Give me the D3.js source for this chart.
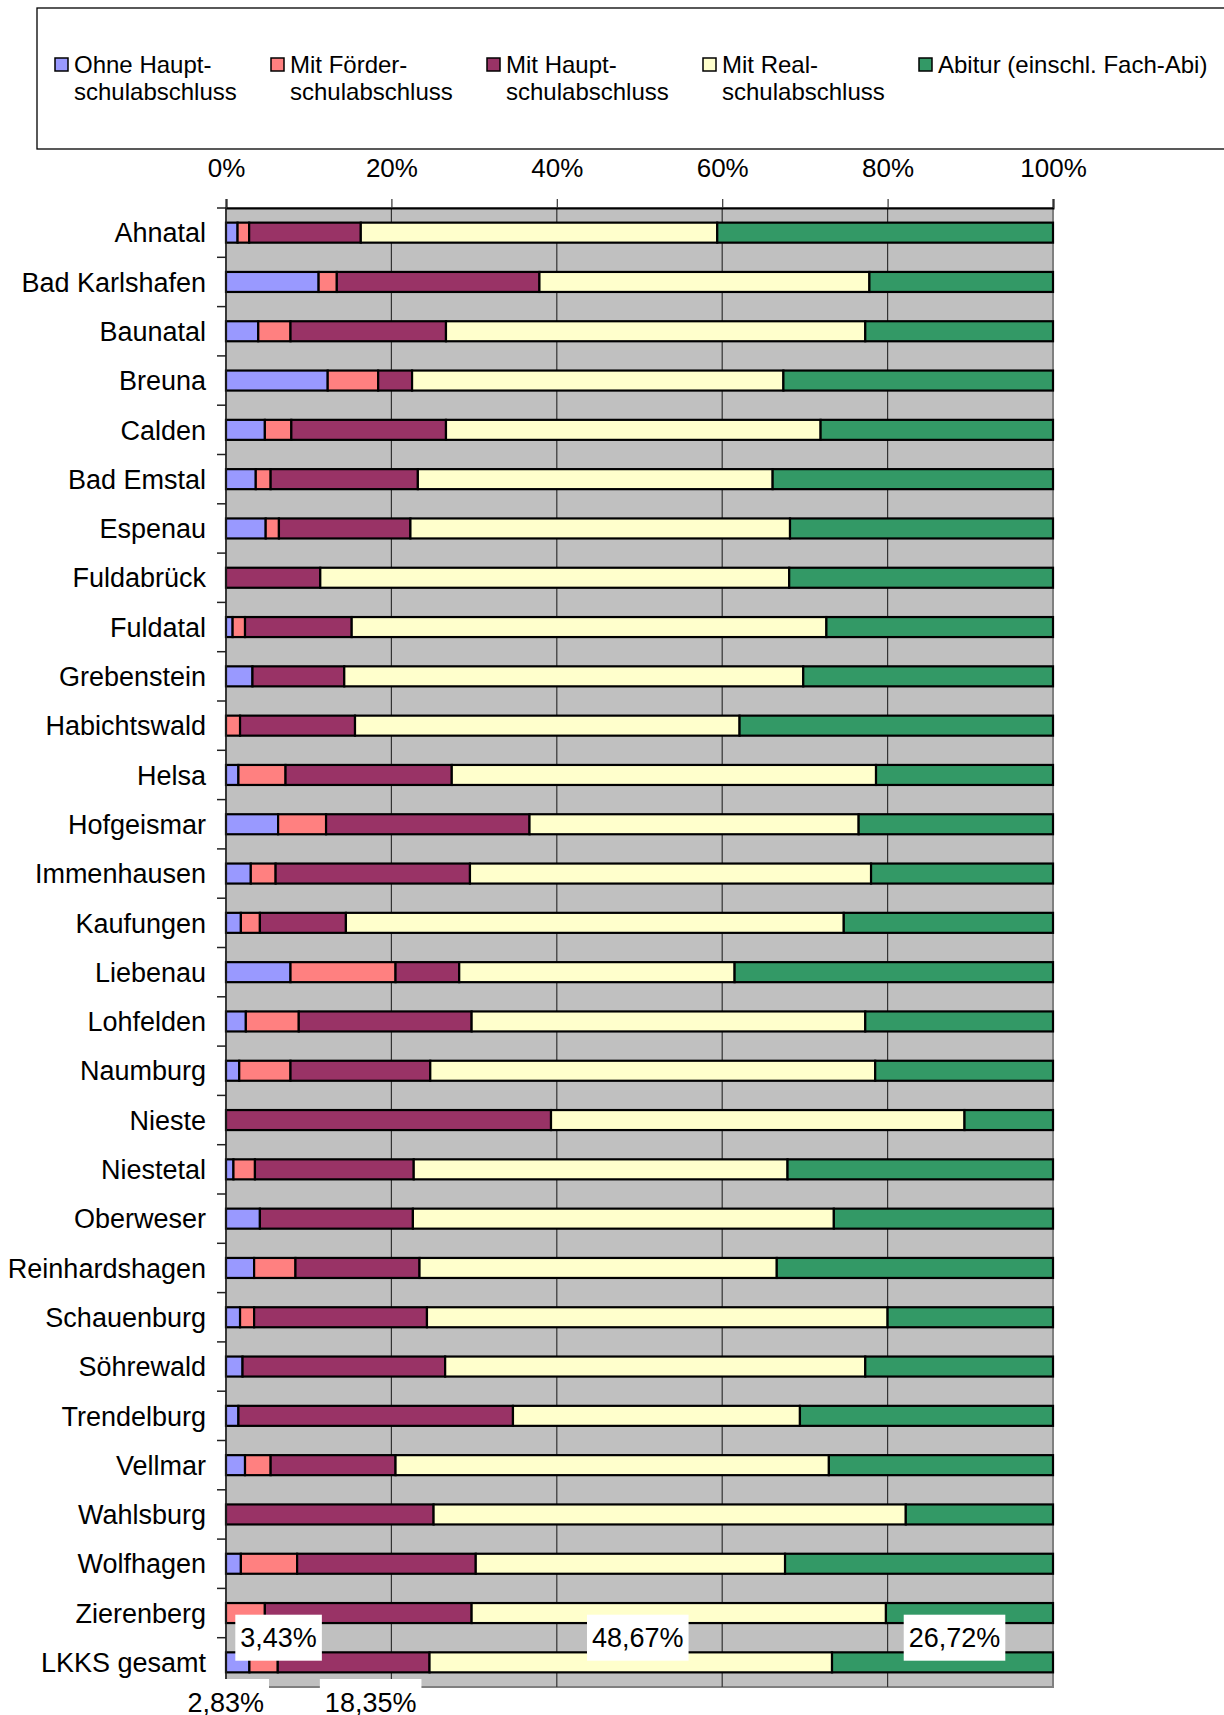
<!DOCTYPE html>
<html>
<head>
<meta charset="utf-8">
<script src="https://cdn.jsdelivr.net/npm/d3@7"></script>
<style>
  html, body { margin: 0; padding: 0; background: #fff; }
  svg { display: block; font-family: "Liberation Sans", Arial, sans-serif; }
</style>
</head>
<body>
<svg id="chart" width="1224" height="1715"></svg>
<script>
var categories = ['Ahnatal', 'Bad Karlshafen', 'Baunatal', 'Breuna', 'Calden', 'Bad Emstal', 'Espenau',
  'Fuldabrück', 'Fuldatal', 'Grebenstein', 'Habichtswald', 'Helsa', 'Hofgeismar', 'Immenhausen',
  'Kaufungen', 'Liebenau', 'Lohfelden', 'Naumburg', 'Nieste', 'Niestetal', 'Oberweser',
  'Reinhardshagen', 'Schauenburg', 'Söhrewald', 'Trendelburg', 'Vellmar', 'Wahlsburg', 'Wolfhagen',
  'Zierenberg', 'LKKS gesamt'];

var seriesNames = [['Ohne Haupt-', 'schulabschluss'], ['Mit Förder-', 'schulabschluss'],
  ['Mit Haupt-', 'schulabschluss'], ['Mit Real-', 'schulabschluss'], ['Abitur (einschl. Fach-Abi)']];

var ohneHaupt = [1.4, 11.2, 3.9, 12.3, 4.7, 3.6, 4.8, 0, 0.8, 3.2, 0, 1.5, 6.3, 3.0, 1.8, 7.8, 2.4, 1.6,
  0, 0.9, 4.1, 3.4, 1.7, 2.0, 1.5, 2.3, 0, 1.8, 0, 2.83];
var mitFoerder = [1.4, 2.2, 3.9, 6.1, 3.2, 1.8, 1.6, 0, 1.5, 0, 1.7, 5.7, 5.8, 3.0, 2.3, 12.7, 6.4, 6.2,
  0, 2.6, 0, 5.0, 1.7, 0, 0, 3.1, 0, 6.8, 4.7, 3.43];
var mitHaupt = [13.5, 24.5, 18.8, 4.1, 18.7, 17.8, 15.9, 11.4, 12.9, 11.1, 13.9, 20.1, 24.6, 23.5, 10.4,
  7.7, 20.9, 16.9, 39.3, 19.2, 18.5, 15.0, 20.9, 24.5, 33.2, 15.1, 25.1, 21.6, 25.0, 18.35];
var mitReal = [43.1, 39.9, 50.7, 44.9, 45.3, 42.9, 45.9, 56.7, 57.4, 55.5, 46.5, 51.3, 39.8, 48.5, 60.2,
  33.3, 47.6, 53.8, 50.0, 45.2, 50.9, 43.2, 55.7, 50.8, 34.7, 52.4, 57.1, 37.4, 50.1, 48.67];
var abitur = [40.6, 22.2, 22.7, 32.6, 28.1, 33.9, 31.8, 31.9, 27.4, 30.2, 37.9, 21.4, 23.5, 22.0, 25.3,
  38.5, 22.7, 21.5, 10.7, 32.1, 26.5, 33.4, 20.0, 22.7, 30.6, 27.1, 17.8, 32.4, 20.2, 26.72];

var xTicks = [0, 20, 40, 60, 80, 100];

var keys = ['ohne', 'foerder', 'haupt', 'real', 'abitur'];
var colors = ['#9999ff', '#ff8080', '#993366', '#ffffcc', '#339966'];

var rows = categories.map(function(c, i) {
  return {name: c, ohne: ohneHaupt[i], foerder: mitFoerder[i], haupt: mitHaupt[i], real: mitReal[i], abitur: abitur[i]};
});

var svg = d3.select('#chart');
var plot = {left: 226, right: 1053, top: 208, bottom: 1687};

var x = d3.scaleLinear().domain([0, 100]).range([plot.left, plot.right]);
var y = d3.scaleBand().domain(categories).range([plot.top, plot.bottom])
  .paddingInner(0.594).paddingOuter(0.297);
var color = d3.scaleOrdinal().domain(keys).range(colors);
var de = d3.formatLocale({decimal: ',', thousands: '.', grouping: [3], currency: ['', ' €']});
var pct = de.format('.2f');

// legend box
var legend = svg.append('g');
legend.append('rect').attr('x', 37).attr('y', 8).attr('width', 1200).attr('height', 141)
  .attr('fill', '#fff').attr('stroke', '#000').attr('stroke-width', 1.3);
var legendX = [55, 271, 487, 703, 919];
seriesNames.forEach(function(lines, i) {
  var g = legend.append('g').attr('transform', 'translate(' + legendX[i] + ',0)');
  g.append('rect').attr('x', 0).attr('y', 58).attr('width', 13).attr('height', 13)
    .attr('fill', colors[i]).attr('stroke', '#000').attr('stroke-width', 1.5);
  g.selectAll('text').data(lines).enter().append('text')
    .attr('x', 19).attr('y', function(d, j) { return 73 + j * 27; })
    .attr('font-size', 24).attr('fill', '#000').text(function(d) { return d; });
});

// plot background and grid
svg.append('rect').attr('x', plot.left).attr('y', plot.top)
  .attr('width', plot.right - plot.left).attr('height', plot.bottom - plot.top)
  .attr('fill', '#c0c0c0').attr('stroke', '#808080').attr('stroke-width', 2);

svg.append('g').selectAll('line').data(xTicks.slice(1, -1)).enter().append('line')
  .attr('x1', x).attr('x2', x).attr('y1', plot.top).attr('y2', plot.bottom)
  .attr('stroke', '#333').attr('stroke-width', 1.2);

// stacked bars
var stacked = d3.stack().keys(keys)(rows);
var layers = svg.append('g').selectAll('g').data(stacked).enter().append('g')
  .attr('fill', function(d) { return color(d.key); });
layers.selectAll('rect')
  .data(function(d) { return d.filter(function(s) { return s[1] - s[0] > 0; }); })
  .enter().append('rect')
  .attr('x', function(d) { return x(d[0]); })
  .attr('y', function(d) { return y(d.data.name); })
  .attr('width', function(d) { return x(d[1]) - x(d[0]); })
  .attr('height', y.bandwidth())
  .attr('stroke', '#000').attr('stroke-width', 2.2);

// top percentage axis
var xAxis = d3.axisTop(x).tickValues(xTicks).tickSize(9).tickPadding(22)
  .tickFormat(function(d) { return d + '%'; });
var gx = svg.append('g').attr('transform', 'translate(0,' + plot.top + ')').call(xAxis);
gx.select('.domain').attr('stroke', '#000').attr('stroke-width', 2);
gx.selectAll('.tick line').attr('stroke', '#333').attr('stroke-width', 1.2);
gx.selectAll('text').attr('font-size', 26).attr('fill', '#000').attr('font-family', null);

// category axis, ticks between bands
svg.append('line').attr('x1', plot.left).attr('x2', plot.left).attr('y1', plot.top).attr('y2', plot.bottom)
  .attr('stroke', '#222').attr('stroke-width', 1.5);
var bounds = categories.map(function(c) { return y(c) - y.step() * y.paddingOuter(); });
svg.append('g').selectAll('line').data(bounds).enter().append('line')
  .attr('x1', plot.left - 9).attr('x2', plot.left).attr('y1', function(d) { return d; }).attr('y2', function(d) { return d; })
  .attr('stroke', '#222').attr('stroke-width', 1.5);
svg.append('g').selectAll('text').data(categories).enter().append('text')
  .attr('x', plot.left - 20).attr('y', function(d) { return y(d) + y.bandwidth() / 2; })
  .attr('dy', '0.36em').attr('text-anchor', 'end').attr('font-size', 27).attr('fill', '#000')
  .text(function(d) { return d; });

// value boxes for LKKS gesamt (alternating above / below the bar)
var total = stacked.map(function(layer) { return layer[layer.length - 1]; });
var labelSide = [1, -1, 1, -1, -1];
var labelShift = [-12, 15, 17, 7, 12];
var lastRow = categories[categories.length - 1];
var notes = svg.append('g').selectAll('g').data(total).enter().append('g')
  .attr('transform', function(d, i) {
    var cx = x((d[0] + d[1]) / 2) + labelShift[i];
    var cy = labelSide[i] > 0 ? plot.bottom + 15 : y(lastRow) - y.step() * y.paddingInner() / 2;
    return 'translate(' + cx + ',' + cy + ')';
  });
notes.append('text').attr('text-anchor', 'middle').attr('dy', '0.36em')
  .attr('font-size', 27).attr('fill', '#000')
  .text(function(d) { return pct(d[1] - d[0]) + '%'; });
notes.each(function() {
  var g = d3.select(this);
  var b = g.select('text').node().getBBox();
  g.insert('rect', 'text').attr('x', b.x - 5).attr('y', -23).attr('width', b.width + 10).attr('height', 46)
    .attr('fill', '#fff');
});
</script>
</body>
</html>
